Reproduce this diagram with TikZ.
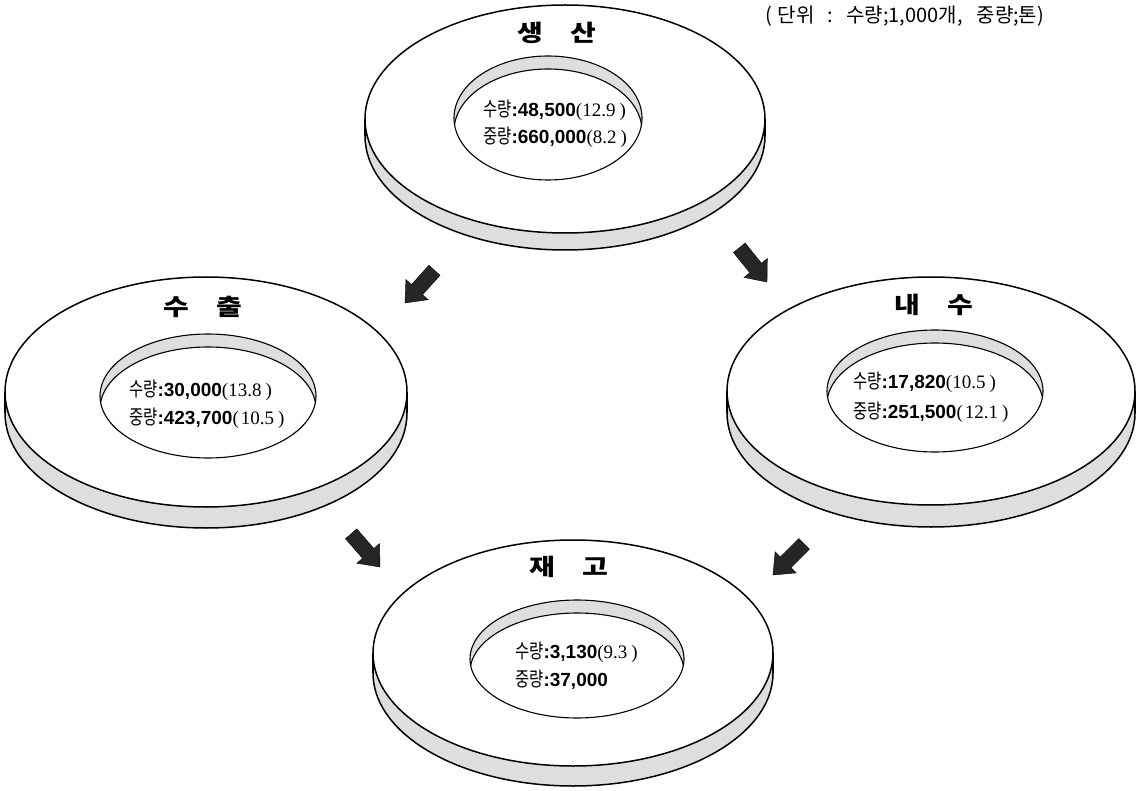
\documentclass[tikz,border=0pt]{standalone}
\usepackage{fontspec}
\setmainfont{Liberation Serif}
\newfontfamily\krf{Noto Sans CJK KR}
\newfontfamily\numf{Liberation Sans}

\tikzset{
  rim/.style={draw=black, line width=1.5pt},
  holeline/.style={draw=black, line width=1.1pt},
  sidefill/.style={fill=black!13},
  disktitle/.style={font=\krf\bfseries\fontsize{28}{28}\selectfont, inner sep=0pt},
  valline/.style={anchor=west, inner sep=0pt},
  blockarrow/.style={fill=black!85, draw=black, line width=0.4pt},
}
% #1 cx, #2 cy, #3 rx, #4 ry, #5 thickness, #6 hx, #7 hy, #8 hrx, #9 hry
\newcommand\drawdisk[9]{%
  \path[sidefill, rim] (#1,#2+#5) ellipse [x radius=#3pt, y radius=#4pt];
  \draw[rim] (#1-#3,#2) -- (#1-#3,#2+#5) (#1+#3,#2) -- (#1+#3,#2+#5);
  \path[rim, fill=white] (#1,#2) ellipse [x radius=#3pt, y radius=#4pt];
  \begin{scope}
    \clip (#6,#7) ellipse [x radius=#8pt, y radius=#9pt];
    \fill[sidefill] (#6,#7) ellipse [x radius=#8pt, y radius=#9pt];
    \path[holeline, fill=white] (#6,#7+13) ellipse [x radius=#8pt, y radius=#9pt];
  \end{scope}
  \draw[holeline] (#6,#7) ellipse [x radius=#8pt, y radius=#9pt];
}
\newcommand\kv[3]{{\krf\fontsize{20}{20}\selectfont\scalebox{0.77}[1]{#1}}%
  {\numf\bfseries\fontsize{19}{19}\selectfont :#2}%
  {\rmfamily\fontsize{19}{19}\selectfont #3}}
\newcommand\ttl[2]{\scalebox{1}[0.82]{#1\hspace{0.95em}#2}}
\newcommand\fatarrow[2]{%
  \path[blockarrow, shift={(#1)}, rotate=#2]
    (0,0) -- (-18,15) -- (-18,7.5) -- (-44,7.5) -- (-44,-7.5) -- (-18,-7.5) -- (-18,-15) -- cycle;
}

\begin{document}
\begin{tikzpicture}[x=1pt, y=-1pt]
\useasboundingbox (0,0) rectangle (1140,791);

% disks
\drawdisk{565}{119}{200}{114}{17}{548}{118}{94}{62}
\drawdisk{206}{392}{201}{115}{21}{208}{396}{108}{62}
\drawdisk{931}{391}{204}{114}{22}{935}{391}{108}{61}
\drawdisk{573}{653}{200}{113}{20}{577}{659}{107}{59}

% titles
\node[disktitle] (tprod) at (557,33) {\ttl{생}{산}};
\node[disktitle] (texp) at (203,307) {\ttl{수}{출}};
\node[disktitle] (tdom) at (934,305) {\ttl{내}{수}};
\node[disktitle] (tinv) at (569,567) {\ttl{재}{고}};

% values
\node[valline] (prodq) at (483,110) {\kv{수량}{48,500}{(12.9\kern4pt)}};
\node[valline] (prodw) at (483,137) {\kv{중량}{660,000}{(8.2\kern4pt)}};
\node[valline] (expq) at (129,390) {\kv{수량}{30,000}{(13.8\kern4pt)}};
\node[valline] (expw) at (129,418) {\kv{중량}{423,700}{(\kern2pt10.5\kern4pt)}};
\node[valline] (domq) at (853,382) {\kv{수량}{17,820}{(10.5\kern4pt)}};
\node[valline] (domw) at (853,412) {\kv{중량}{251,500}{(\kern2pt12.1\kern4pt)}};
\node[valline] (invq) at (515,652) {\kv{수량}{3,130}{(9.3\kern4pt)}};
\node[valline] (invw) at (515,680) {\kv{중량}{37,000}{}};

% unit note
\node[anchor=west, inner sep=0pt, font=\krf\fontsize{20}{20}\selectfont] (unit) at (765,16)
  {(\hspace{6pt}단위\hspace{13pt}:\hspace{13pt}수량;1,000개,\hspace{14pt}중량;톤)};

% arrows
\coordinate (a1) at (405,303);
\coordinate (a2) at (767,282);
\coordinate (a3) at (380,567);
\coordinate (a4) at (773,575);
\fatarrow{a1}{-132}
\fatarrow{a2}{-51}
\fatarrow{a3}{-49}
\fatarrow{a4}{-135}
\end{tikzpicture}
\end{document}
